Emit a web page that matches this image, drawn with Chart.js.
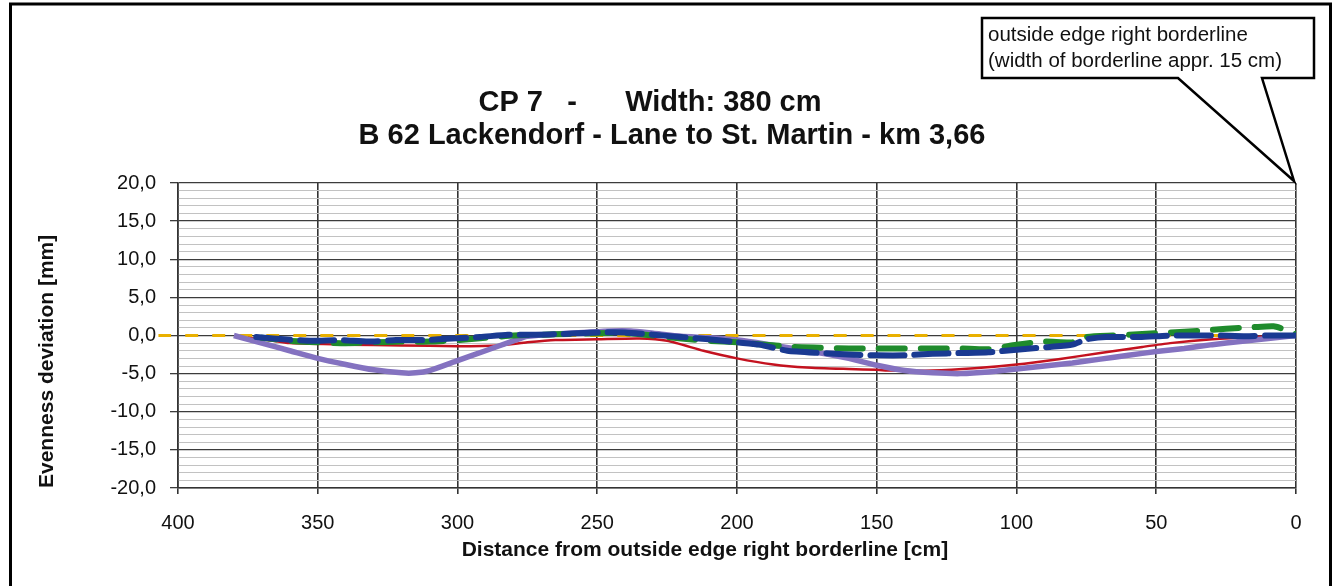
<!DOCTYPE html>
<html>
<head>
<meta charset="utf-8">
<script src="https://cdn.jsdelivr.net/npm/chart.js@4/dist/chart.umd.min.js"></script>
<style>
  html, body { margin: 0; padding: 0; background: #fff; }
  #wrap { width: 1343px; height: 586px; }
  canvas { display: block; }
</style>
</head>
<body>
<div id="wrap"><canvas id="chart" width="1343" height="586"></canvas></div>
<script>
// Heading and callout text
const titleLine1 = 'CP 7   -      Width: 380 cm';
const titleLine2 = 'B 62 Lackendorf - Lane to St. Martin - km 3,66';
const calloutLines = ['outside edge right borderline', '(width of borderline appr. 15 cm)'];
const calloutAnchor = { x: 0, y: 20 };   // distance [cm], deviation [mm]

// Axis ticks
const xTickValues = [400, 350, 300, 250, 200, 150, 100, 50, 0];
const yTickValues = [20, 15, 10, 5, 0, -5, -10, -15, -20];

// Reference level (0 mm)
const refDist = [407, 0];
const refVal  = [0, 0];

// Template profile (purple)
const purpleDist = [380, 370, 360, 350, 340, 330, 320, 315, 310, 300, 290, 280, 275, 265, 255, 245, 238, 230, 220, 210,
                    200, 190, 180, 170, 160, 150, 140, 130, 120, 110, 100, 90, 80, 70, 60, 50, 40, 30, 20, 10, 0];
const purpleVal  = [0, -1.0, -2.0, -3.0, -3.8, -4.5, -4.9, -4.9, -4.6, -3.3, -2.0, -0.7, -0.1, 0.2, 0.4, 0.6, 0.6, 0.3, -0.1, -0.3,
                    -0.6, -1.1, -1.7, -2.3, -3.0, -3.9, -4.6, -4.9, -5.0, -4.8, -4.4, -4.0, -3.6, -3.1, -2.6, -2.1, -1.7, -1.2, -0.8, -0.4, 0];

// Measured profile (red)
const redDist = [375, 368, 360, 340, 320, 300, 285, 275, 265, 250, 235, 225, 212, 200, 187, 175, 160, 150, 145,
                 130, 115, 100, 85, 70, 55, 45, 30, 15, 0];
const redVal  = [-0.3, -0.6, -1.0, -1.2, -1.3, -1.4, -1.3, -0.9, -0.6, -0.5, -0.4, -0.7, -2.0, -3.0, -3.8, -4.2, -4.4, -4.5, -4.6,
                 -4.6, -4.3, -3.8, -3.1, -2.3, -1.5, -1.0, -0.5, -0.2, 0];

// Measured profile (blue)
const blueDist = [372, 362, 352, 342, 332, 322, 312, 302, 292, 282, 272, 262, 250, 240, 230, 220, 210, 200, 192, 182,
                  170, 160, 150, 140, 130, 120, 110, 98, 88, 80, 75, 68, 56, 45, 35, 28, 18, 10, 0];
const blueVal  = [-0.2, -0.5, -0.7, -0.6, -0.8, -0.6, -0.6, -0.4, -0.2, 0.1, 0.1, 0.2, 0.4, 0.4, 0.1, -0.2, -0.5, -0.9, -1.2, -2.0,
                  -2.3, -2.5, -2.6, -2.6, -2.4, -2.3, -2.2, -1.8, -1.5, -1.2, -0.5, -0.2, -0.2, 0.0, 0.0, 0.0, -0.1, 0.0, 0];

// Measured profile (green)
const greenDist = [370, 360, 350, 340, 330, 320, 310, 300, 290, 280, 270, 260, 250, 240, 230, 220, 210, 200, 190, 180,
                   170, 160, 150, 140, 130, 120, 110, 100, 90, 80, 75, 65, 55, 45, 35, 25, 15, 8, 4, 0];
const greenVal  = [-0.3, -0.7, -0.9, -1.0, -0.9, -0.8, -0.8, -0.6, -0.3, 0.0, 0.1, 0.2, 0.3, 0.3, 0.0, -0.4, -0.7, -0.9, -1.2, -1.5,
                   -1.6, -1.7, -1.7, -1.7, -1.7, -1.7, -1.8, -1.2, -0.8, -0.9, -0.2, 0.0, 0.2, 0.4, 0.6, 0.9, 1.1, 1.2, 0.8, 0.2];

const FONT = "'Liberation Sans', Arial, Helvetica, sans-serif";
Chart.defaults.font.family = FONT;
Chart.defaults.color = '#111';

const toPoints = (xs, ys) => xs.map((x, i) => ({ x: x, y: ys[i] }));

// White page with the outer frame
const framePlugin = {
  id: 'frame',
  beforeDraw(chart) {
    const ctx = chart.ctx;
    ctx.save();
    ctx.fillStyle = '#fff';
    ctx.fillRect(0, 0, chart.width, chart.height);
    ctx.strokeStyle = '#000';
    ctx.lineWidth = 3;
    ctx.beginPath();
    ctx.moveTo(10.5, chart.height);
    ctx.lineTo(10.5, 4);
    ctx.lineTo(1330.5, 4);
    ctx.lineTo(1330.5, chart.height);
    ctx.stroke();
    ctx.restore();
  }
};

// Two-line centred heading
const headlinePlugin = {
  id: 'headline',
  afterDraw(chart, args, opts) {
    const ctx = chart.ctx;
    ctx.save();
    ctx.fillStyle = '#111';
    ctx.font = 'bold 29px ' + FONT;
    ctx.textAlign = 'center';
    ctx.textBaseline = 'middle';
    ctx.fillText(opts.lines[0], opts.cx1, opts.y1);
    ctx.fillText(opts.lines[1], opts.cx2, opts.y2);
    ctx.restore();
  }
};

// Callout box pointing at the right borderline
const calloutPlugin = {
  id: 'callout',
  afterDraw(chart, args, opts) {
    const ctx = chart.ctx;
    const tipX = chart.scales.x.getPixelForValue(opts.anchor.x);
    const tipY = chart.scales.y.getPixelForValue(opts.anchor.y);
    const L = 982, T = 18, R = 1314, B = 78;
    ctx.save();
    ctx.beginPath();
    ctx.moveTo(L, T);
    ctx.lineTo(R, T);
    ctx.lineTo(R, B);
    ctx.lineTo(1262, B);
    ctx.lineTo(tipX - 2, tipY - 2);
    ctx.lineTo(1178, B);
    ctx.lineTo(L, B);
    ctx.closePath();
    ctx.fillStyle = '#fff';
    ctx.fill();
    ctx.strokeStyle = '#000';
    ctx.lineWidth = 2.5;
    ctx.lineJoin = 'miter';
    ctx.stroke();
    ctx.fillStyle = '#111';
    ctx.font = '20.5px ' + FONT;
    ctx.textAlign = 'left';
    ctx.textBaseline = 'middle';
    ctx.fillText(opts.lines[0], 988, 35);
    ctx.fillText(opts.lines[1], 988, 61);
    ctx.restore();
  }
};

const lineStyle = { pointRadius: 0, pointHoverRadius: 0, fill: false, tension: 0.2 };

new Chart(document.getElementById('chart'), {
  type: 'line',
  data: {
    datasets: [
      Object.assign({ label: 'blue', data: toPoints(blueDist, blueVal), borderColor: '#1a3a92',
        borderWidth: 6, borderDash: [34, 10], borderCapStyle: 'round', order: 1 }, lineStyle),
      Object.assign({ label: 'green', data: toPoints(greenDist, greenVal), borderColor: '#1f8b2c',
        borderWidth: 6, borderDash: [26, 16], borderDashOffset: 12, borderCapStyle: 'round', order: 2 }, lineStyle),
      Object.assign({ label: 'purple', data: toPoints(purpleDist, purpleVal), borderColor: '#8472c0',
        borderWidth: 5.5, order: 3 }, lineStyle),
      Object.assign({ label: 'red', data: toPoints(redDist, redVal), borderColor: '#c4121f',
        borderWidth: 2.5, order: 4 }, lineStyle),
      Object.assign({ label: 'reference', data: toPoints(refDist, refVal), borderColor: '#e9b000',
        borderWidth: 3, borderDash: [13, 14], order: 5, clip: false }, lineStyle)
    ]
  },
  options: {
    responsive: false,
    animation: false,
    events: [],
    layout: { padding: { left: 0, right: 47, top: 183, bottom: 0 } },
    plugins: {
      legend: { display: false },
      tooltip: { enabled: false },
      title: { display: false },
      headline: { lines: [titleLine1, titleLine2], cx1: 650, y1: 103, cx2: 672, y2: 136 },
      callout: { lines: calloutLines, anchor: calloutAnchor }
    },
    scales: {
      x: {
        type: 'linear', position: 'bottom', min: 0, max: 400, reverse: true,
        afterBuildTicks: s => { s.ticks = xTickValues.map(v => ({ value: v })); },
        ticks: { color: '#111', font: { size: 20 }, padding: 17, maxRotation: 0, autoSkip: false },
        grid: { color: '#333', lineWidth: 1.6, tickLength: 6 },
        border: { color: '#333', width: 1.6 },
        title: { display: true, text: 'Distance from outside edge right borderline [cm]           ',
                 color: '#111', font: { size: 21, weight: 'bold' }, padding: { top: 0, bottom: 23 } },
        afterFit: s => { s.height = 98; }
      },
      y: {
        type: 'linear', position: 'left', min: -20, max: 20,
        afterBuildTicks: s => { s.ticks = yTickValues.map(v => ({ value: v })); },
        ticks: { color: '#111', font: { size: 20 }, padding: 14, autoSkip: false,
                 callback: v => v.toFixed(1).replace('.', ',') },
        grid: { color: '#3c3c3c', lineWidth: 1.3, tickLength: 8 },
        border: { color: '#333', width: 1.6 },
        title: { display: true, text: 'Evenness deviation [mm]', align: 'start',
                 color: '#111', font: { size: 21, weight: 'bold' }, padding: { top: 35, bottom: 0 } },
        afterFit: s => { s.width = 178; }
      },
      yMinor: {
        type: 'linear', position: 'left', min: -20, max: 20,
        ticks: { display: false, stepSize: 1, maxTicksLimit: 100 },
        grid: { drawTicks: false, lineWidth: 1,
                color: c => (Math.round(c.tick.value) % 5 === 0) ? 'rgba(0,0,0,0)' : '#c2c2c2' },
        border: { display: false },
        afterFit: s => { s.width = 0; }
      }
    }
  },
  plugins: [framePlugin, headlinePlugin, calloutPlugin]
});
</script>
</body>
</html>
